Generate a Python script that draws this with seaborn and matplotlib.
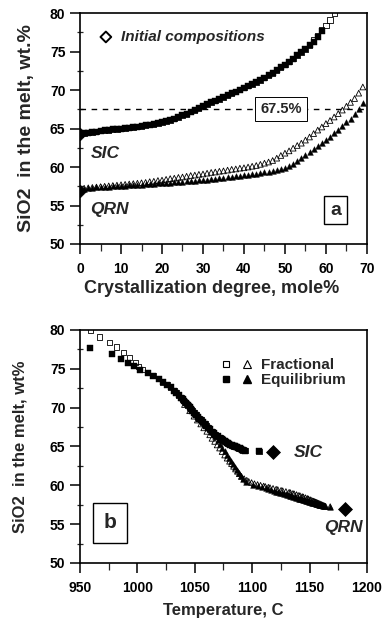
import numpy as np
import matplotlib
matplotlib.use("Agg")
import matplotlib.pyplot as plt
from matplotlib.ticker import MultipleLocator
from matplotlib.lines import Line2D
from matplotlib.legend_handler import HandlerTuple
import seaborn as sns

# ---------------------------------------------------------------------------
# Model steps: crystallization degree (mole%) of each calculation step
# ---------------------------------------------------------------------------
degree = list(range(70))

# SIC, fractional crystallization (open squares)
sic_frac_sio2 = [64.3, 64.4, 64.45, 64.55, 64.6, 64.7, 64.75, 64.8, 64.9, 64.95,
                 65.0, 65.05, 65.1, 65.2, 65.25, 65.3, 65.4, 65.5, 65.6, 65.7,
                 65.8, 65.95, 66.1, 66.3, 66.5, 66.7, 66.9, 67.2, 67.4, 67.65,
                 67.9, 68.15, 68.4, 68.6, 68.85, 69.1, 69.35, 69.6, 69.8, 70.05,
                 70.3, 70.55, 70.8, 71.05, 71.3, 71.6, 71.9, 72.2, 72.6, 72.95,
                 73.3, 73.7, 74.1, 74.5, 74.9, 75.3, 75.85, 76.5, 77.1, 77.8,
                 78.4, 79.1, 79.9]
sic_frac_temp = [1118, 1106, 1094, 1092, 1091, 1090, 1089, 1088, 1087, 1086,
                 1085, 1084, 1083, 1082, 1081, 1080, 1079, 1078, 1077, 1076,
                 1075, 1073.5, 1072, 1070, 1068, 1066.5, 1065, 1063, 1061.5, 1060,
                 1059, 1057, 1055.5, 1054, 1052.5, 1051, 1049.5, 1048, 1047, 1045.5,
                 1044, 1042.5, 1041, 1039.5, 1038, 1036, 1034, 1032, 1029, 1026,
                 1022, 1018.5, 1014, 1009, 1004, 1001, 998, 993, 988, 982,
                 976, 967, 959]

# SIC, equilibrium crystallization (filled squares)
sic_eq_sio2 = [64.3, 64.4, 64.45, 64.55, 64.6, 64.7, 64.75, 64.8, 64.9, 64.95,
               65.0, 65.05, 65.1, 65.2, 65.25, 65.3, 65.4, 65.5, 65.6, 65.7,
               65.8, 65.95, 66.1, 66.3, 66.5, 66.7, 66.9, 67.2, 67.4, 67.65,
               67.9, 68.15, 68.4, 68.6, 68.85, 69.1, 69.35, 69.6, 69.8, 70.05,
               70.3, 70.55, 70.8, 71.05, 71.3, 71.6, 71.9, 72.2, 72.6, 72.95,
               73.3, 73.7, 74.1, 74.5, 74.9, 75.3, 75.8, 76.3, 76.9, 77.7]
sic_eq_temp = [1118, 1106, 1094, 1092, 1091, 1090, 1089, 1088, 1087, 1086,
               1085, 1084, 1083, 1082, 1081, 1080, 1079, 1078, 1077, 1076,
               1075, 1073.5, 1072, 1070, 1068, 1066.5, 1065, 1063, 1061.5, 1060,
               1059, 1057, 1055.5, 1054, 1052.5, 1051, 1049.5, 1048, 1047, 1045.5,
               1044, 1042.5, 1041, 1039.5, 1038, 1036, 1034, 1032, 1029, 1026,
               1022, 1018.5, 1014, 1009, 1002, 997, 992, 986, 978, 959]

# QRN, fractional crystallization (open triangles)
qrn_frac_sio2 = [56.9, 57.25, 57.3, 57.35, 57.4, 57.45, 57.5, 57.55, 57.6, 57.65,
                 57.7, 57.75, 57.8, 57.85, 57.9, 57.95, 58.0, 58.1, 58.15, 58.25,
                 58.3, 58.4, 58.5, 58.55, 58.65, 58.7, 58.8, 58.9, 58.95, 59.05,
                 59.1, 59.2, 59.3, 59.35, 59.45, 59.5, 59.6, 59.7, 59.75, 59.85,
                 59.9, 60.0, 60.1, 60.2, 60.35, 60.5, 60.65, 60.85, 61.15, 61.5,
                 61.8, 62.1, 62.45, 62.8, 63.1, 63.5, 63.9, 64.35, 64.8, 65.2,
                 65.65, 66.05, 66.5, 66.95, 67.4, 67.9, 68.4, 68.9, 69.6, 70.4]
qrn_frac_temp = [1180, 1168, 1164, 1163, 1162.3, 1161.5, 1160.7, 1160, 1159.2, 1158.4,
                 1157.6, 1156.8, 1156, 1155.2, 1154.4, 1153.6, 1152.8, 1151.3, 1150.5, 1149,
                 1148.2, 1146.5, 1144.6, 1143.6, 1141.7, 1140.7, 1138.7, 1136.6, 1135.5, 1133.3,
                 1132.2, 1129.4, 1126.6, 1125.2, 1122.3, 1120.9, 1118.2, 1115.5, 1114.1, 1111.4,
                 1110, 1107.3, 1104.7, 1102, 1099.5, 1097, 1095.3, 1093, 1090.6, 1088.8,
                 1087.2, 1085.5, 1083.8, 1082, 1080.3, 1078.2, 1076, 1073.8, 1071.6, 1069.5,
                 1067.3, 1065, 1063, 1060.5, 1057.8, 1055.2, 1052.2, 1049.3, 1045.5, 1041]

# QRN, equilibrium crystallization (filled triangles)
qrn_eq_sio2 = [56.9, 57.2, 57.28, 57.33, 57.37, 57.4, 57.43, 57.46, 57.49, 57.52,
               57.55, 57.58, 57.61, 57.64, 57.67, 57.7, 57.74, 57.78, 57.82, 57.86,
               57.9, 57.94, 57.98, 58.02, 58.06, 58.1, 58.14, 58.18, 58.22, 58.26,
               58.3, 58.35, 58.41, 58.47, 58.53, 58.6, 58.65, 58.71, 58.77, 58.83,
               58.9, 58.97, 59.04, 59.11, 59.2, 59.3, 59.4, 59.5, 59.6, 59.75,
               59.9, 60.1, 60.4, 60.8, 61.2, 61.6, 61.95, 62.3, 62.7, 63.1,
               63.5, 63.95, 64.4, 64.85, 65.3, 65.8, 66.3, 66.9, 67.6, 68.3]
qrn_eq_temp = [1180, 1168, 1163.5, 1162.4, 1161.5, 1160.8, 1160.2, 1159.5, 1158.8, 1158.2,
               1157.5, 1156.8, 1156.2, 1155.5, 1154.8, 1154.2, 1153.3, 1152.4, 1151.5, 1150.6,
               1149.7, 1148.8, 1147.9, 1147.1, 1146.2, 1145.3, 1144.4, 1143.5, 1142.6, 1141.7,
               1140.8, 1139.7, 1138.4, 1137.1, 1135.7, 1134.2, 1133.1, 1131.7, 1130.4, 1129.1,
               1127.5, 1126.0, 1124.4, 1122.9, 1120.9, 1118.6, 1116.4, 1114.2, 1112.0, 1108.7,
               1105.3, 1100.9, 1094.2, 1091.7, 1089.9, 1088.2, 1086.7, 1085.1, 1083.4, 1081.6,
               1079.9, 1077.9, 1076.0, 1074.0, 1072.0, 1069.8, 1067.7, 1065.0, 1061.5, 1057]

# Initial melt compositions (SiO2 wt.%) and liquidus temperatures
initial_names = ["SIC", "QRN"]
initial_sio2 = [64.3, 56.9]
initial_temp = [1118, 1181]

threshold_sio2 = 67.5

# ---------------------------------------------------------------------------
sns.set_style("ticks")
plt.rcParams["font.family"] = ["Liberation Sans", "DejaVu Sans"]
plt.rcParams["font.weight"] = "bold"

fig = plt.figure(figsize=(3.83, 6.24), dpi=100)
ax_a = fig.add_axes([0.209, 0.609, 0.749, 0.370])
ax_b = fig.add_axes([0.209, 0.0978, 0.749, 0.3734])

SQ = 14
TRI = 17
EDGE = 0.6


def open_markers(ax, x, y, marker, size):
    sns.scatterplot(x=x, y=y, ax=ax, marker=marker, s=size, color="black",
                    edgecolor="black", linewidth=EDGE, zorder=3)
    ax.collections[-1].set_facecolor("none")


def filled_markers(ax, x, y, marker, size):
    sns.scatterplot(x=x, y=y, ax=ax, marker=marker, s=size, color="black",
                    edgecolor="black", linewidth=0.3, zorder=3)


def style_axes(ax):
    for sp in ax.spines.values():
        sp.set_visible(True)
        sp.set_linewidth(1.2)
        sp.set_color("black")
    ax.tick_params(axis="both", which="major", direction="out", length=7,
                   width=1.1, labelsize=10, colors="black")
    ax.tick_params(axis="y", which="minor", direction="inout", length=5, width=0.9)
    ax.tick_params(axis="x", which="minor", direction="out", length=5, width=0.9)
    ax.tick_params(axis="x", which="major", pad=6)
    for lab in ax.get_xticklabels() + ax.get_yticklabels():
        lab.set_fontweight("bold")
    ax.set_facecolor("white")


# ---------------------------- panel a --------------------------------------
ax = ax_a
n = len(sic_eq_sio2)
filled_markers(ax, degree[:n], sic_eq_sio2, "s", SQ)
n = len(sic_frac_sio2)
open_markers(ax, degree[:n], sic_frac_sio2, "s", SQ)
open_markers(ax, degree[:len(qrn_frac_sio2)], qrn_frac_sio2, "^", TRI)
filled_markers(ax, degree[:len(qrn_eq_sio2)], qrn_eq_sio2, "^", TRI)
sns.scatterplot(x=[0, 0], y=initial_sio2, ax=ax, marker="D", s=40,
                color="black", edgecolor="black", zorder=4)

ax.axhline(threshold_sio2, color="black", lw=1.0, ls=(0, (4, 4)), zorder=2)
ax.text(49, threshold_sio2, f"{threshold_sio2}%", ha="center", va="center",
        fontsize=10.5, fontweight="bold", zorder=5,
        bbox=dict(boxstyle="square,pad=0.35", fc="white", ec="black", lw=0.7))

ax.scatter([6.3], [76.9], marker="D", s=30, facecolor="none",
           edgecolor="black", linewidth=1.4, zorder=4)
ax.text(10.0, 76.9, "Initial compositions", ha="left", va="center",
        fontsize=11, fontweight="bold", style="italic")
ax.text(2.5, 61.8, initial_names[0], ha="left", va="center", fontsize=12.5,
        fontweight="bold", style="italic")
ax.text(2.5, 54.5, initial_names[1], ha="left", va="center", fontsize=12.5,
        fontweight="bold", style="italic")
ax.text(62.4, 54.4, "a", ha="center", va="center", fontsize=14,
        fontweight="bold",
        bbox=dict(boxstyle="square,pad=0.3", fc="white", ec="black", lw=1.0))

ax.set_xlim(0, 70)
ax.set_ylim(50, 80)
ax.xaxis.set_major_locator(MultipleLocator(10))
ax.xaxis.set_minor_locator(MultipleLocator(5))
ax.yaxis.set_major_locator(MultipleLocator(5))
ax.yaxis.set_minor_locator(MultipleLocator(2.5))
ax.set_xlabel("Crystallization degree, mole%", fontsize=13, fontweight="bold",
              labelpad=3)
ax.xaxis.set_label_coords(0.46, -0.155)
ax.set_ylabel("SiO2  in the melt, wt.%", fontsize=14, fontweight="bold",
              labelpad=11)
style_axes(ax)

# ---------------------------- panel b --------------------------------------
ax = ax_b
open_markers(ax, sic_frac_temp, sic_frac_sio2, "s", SQ)
filled_markers(ax, sic_eq_temp, sic_eq_sio2, "s", SQ)
open_markers(ax, qrn_frac_temp[1:], qrn_frac_sio2[1:], "^", TRI)
filled_markers(ax, qrn_eq_temp[1:], qrn_eq_sio2[1:], "^", TRI)
sns.scatterplot(x=initial_temp, y=initial_sio2, ax=ax, marker="D", s=50,
                color="black", edgecolor="black", zorder=4)

ax.text(1136, 64.2, initial_names[0], ha="left", va="center", fontsize=12.5,
        fontweight="bold", style="italic")
ax.text(1196, 54.6, initial_names[1], ha="right", va="center", fontsize=12.5,
        fontweight="bold", style="italic")
ax.text(976, 55.2, "b", ha="center", va="center", fontsize=15,
        fontweight="bold",
        bbox=dict(boxstyle="square,pad=0.5", fc="white", ec="black", lw=1.0))

h_fo = Line2D([], [], ls="none", marker="s", ms=5, mfc="none", mec="black", mew=0.8)
h_to = Line2D([], [], ls="none", marker="^", ms=6, mfc="none", mec="black", mew=0.8)
h_fe = Line2D([], [], ls="none", marker="s", ms=5, mfc="black", mec="black")
h_te = Line2D([], [], ls="none", marker="^", ms=6, mfc="black", mec="black")
leg = ax.legend([(h_fo, h_to), (h_fe, h_te)], ["Fractional", "Equilibrium"],
                handler_map={tuple: HandlerTuple(ndivide=None, pad=0.6)},
                loc="upper left", bbox_to_anchor=(0.45, 0.925), frameon=False,
                handlelength=2.2, handletextpad=0.5, labelspacing=0.05,
                borderpad=0.2, prop=dict(size=11, weight="bold"))

ax.set_xlim(950, 1200)
ax.set_ylim(50, 80)
ax.xaxis.set_major_locator(MultipleLocator(50))
ax.xaxis.set_minor_locator(MultipleLocator(25))
ax.yaxis.set_major_locator(MultipleLocator(5))
ax.yaxis.set_minor_locator(MultipleLocator(2.5))
ax.set_xlabel("Temperature, C", fontsize=12, fontweight="bold", labelpad=6)
ax.set_ylabel("SiO2  in the melt, wt%", fontsize=12, fontweight="bold",
              labelpad=16)
style_axes(ax)

fig.savefig("out.png", dpi=100, facecolor="white")
